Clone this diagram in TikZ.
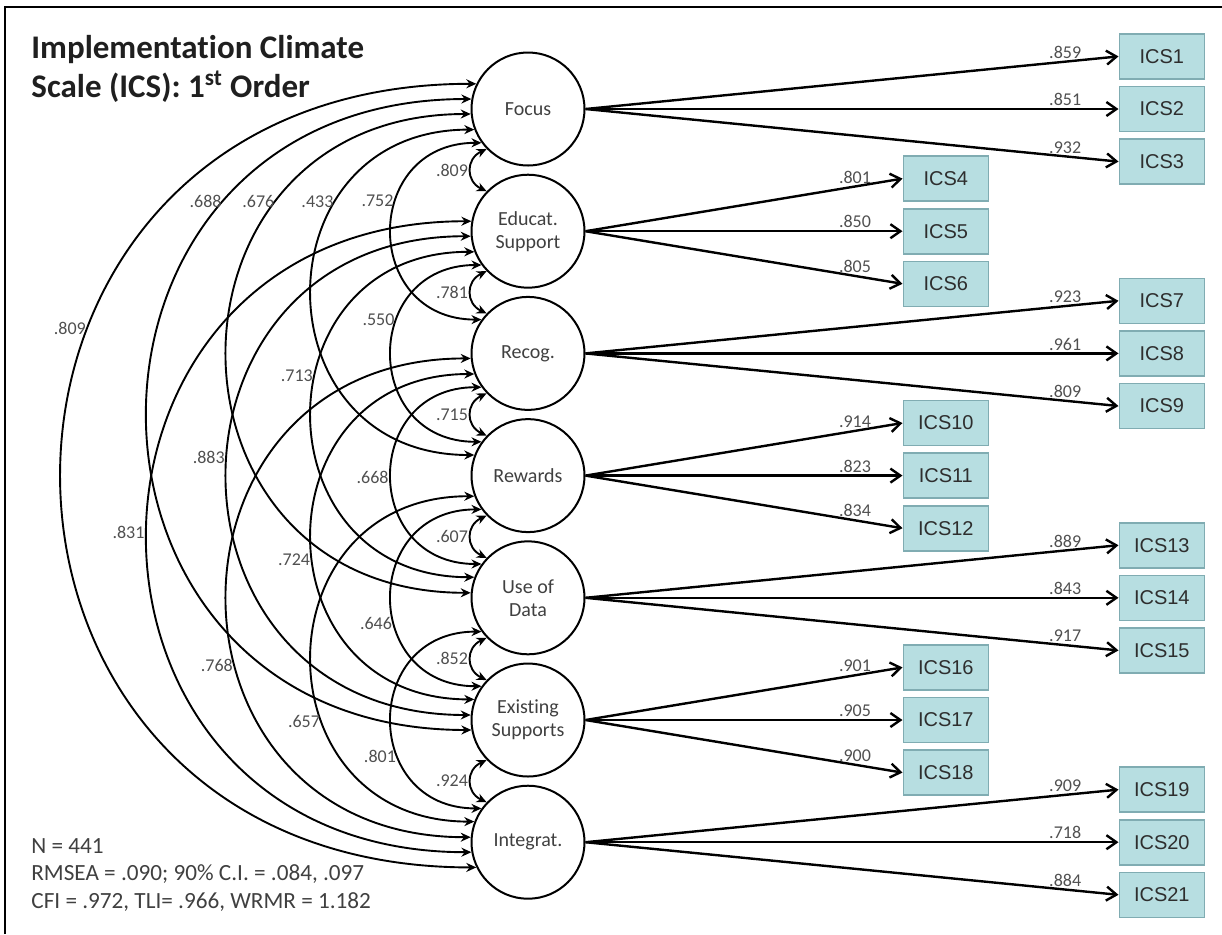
\documentclass[tikz,border=0pt]{standalone}
\usepackage{fontspec}
\setmainfont{Carlito}[Ligatures=NoCommon]
\newfontfamily\boxfont{Liberation Sans}
\usetikzlibrary{arrows.meta,positioning}
\definecolor{textgray}{HTML}{404040}
\definecolor{lblgray}{HTML}{505050}
\definecolor{boxfill}{HTML}{B7DEE1}
\definecolor{boxedge}{HTML}{80ACB2}
\tikzset{
  factor/.style={circle,draw,line width=1pt,minimum size=56.5pt,inner sep=0pt,
    align=center,text=textgray,font=\fontsize{10}{11.5}\selectfont},
  item/.style={draw=boxedge,fill=boxfill,line width=0.8pt,minimum width=42.5pt,
    minimum height=22.5pt,inner sep=0pt,text=black!82,
    font=\boxfont\fontsize{10}{12}\selectfont},
  load/.style={-{Straight Barb[length=5pt,width=7pt]},line width=1.2pt},
  cov/.style={{Stealth[length=5pt,width=4.5pt]}-{Stealth[length=5pt,width=4.5pt]},
    line width=0.95pt},
  coef/.style={text=lblgray,font=\fontsize{9}{10}\selectfont,inner sep=1pt}
}

\begin{document}
\begin{tikzpicture}[x=0.5pt,y=-0.5pt]
  \useasboundingbox (0,0) rectangle (1222,934);
  \draw[line width=1pt] (5,934) -- (5,7) -- (1222,7);

  % heading and fit
  \node[anchor=north west,align=left,inner sep=0pt,text=black!88,
    font=\bfseries\fontsize{16.5}{19.5}\selectfont] (title) at (31,35)
    {Implementation Climate\\Scale (ICS): 1\textsuperscript{st} Order};
  \node[anchor=north west,align=left,inner sep=0pt,text=textgray,
    font=\fontsize{11.6}{13.8}\selectfont] (fit) at (31,838)
    {N = 441\\RMSEA = .090; 90\% C.I. = .084, .097\\CFI = .972, TLI= .966, WRMR = 1.182};

  % factors
  \node[factor] (Focus) at (528,109) {Focus};
  \node[factor,below=3.6pt of Focus] (Educ) {Educat.\\Support};
  \node[factor,below=3.6pt of Educ] (Recog) {Recog.};
  \node[factor,below=3.6pt of Recog] (Reward) {Rewards};
  \node[factor,below=3.6pt of Reward] (Data) {Use of\\Data};
  \node[factor,below=3.6pt of Data] (Exist) {Existing\\Supports};
  \node[factor,below=3.6pt of Exist] (Integ) {Integrat.};

  % items, outer column
  \node[item,right=266.5pt of Focus] (I2) {ICS2};
  \node[item,above=3pt of I2] (I1) {ICS1};
  \node[item,below=3pt of I2] (I3) {ICS3};
  \node[item,right=266.5pt of Recog] (I8) {ICS8};
  \node[item,above=3pt of I8] (I7) {ICS7};
  \node[item,below=3pt of I8] (I9) {ICS9};
  \node[item,right=266.5pt of Data] (I14) {ICS14};
  \node[item,above=3pt of I14] (I13) {ICS13};
  \node[item,below=3pt of I14] (I15) {ICS15};
  \node[item,right=266.5pt of Integ] (I20) {ICS20};
  \node[item,above=3pt of I20] (I19) {ICS19};
  \node[item,below=3pt of I20] (I21) {ICS21};
  % items, inner column
  \node[item,right=158.5pt of Educ] (I5) {ICS5};
  \node[item,above=3pt of I5] (I4) {ICS4};
  \node[item,below=3pt of I5] (I6) {ICS6};
  \node[item,right=158.5pt of Reward] (I11) {ICS11};
  \node[item,above=3pt of I11] (I10) {ICS10};
  \node[item,below=3pt of I11] (I12) {ICS12};
  \node[item,right=158.5pt of Exist] (I17) {ICS17};
  \node[item,above=3pt of I17] (I16) {ICS16};
  \node[item,below=3pt of I17] (I18) {ICS18};

  % loadings
  \foreach \f/\i/\v in {Focus/1/.859,Focus/2/.851,Focus/3/.932,
      Recog/7/.923,Recog/8/.961,Recog/9/.809,Data/13/.889,Data/14/.843,
      Data/15/.917,Integ/19/.909,Integ/20/.718,Integ/21/.884}
    \draw[load] (\f.east) -- (I\i.west) node[coef,pos=0.9,above] {\v};
  \foreach \f/\i/\v in {Educ/4/.801,Educ/5/.850,Educ/6/.805,Reward/10/.914,
      Reward/11/.823,Reward/12/.834,Exist/16/.901,Exist/17/.905,Exist/18/.900}
    \draw[load] (\f.east) -- (I\i.west) node[coef,pos=0.85,above] {\v};

  % correlations, one ring per distance
  \foreach \u/\l/\v in {Focus/Educ/.809,Educ/Recog/.781,Recog/Reward/.715,
      Reward/Data/.607,Data/Exist/.852,Exist/Integ/.924}
    \draw[cov] (\u.224) .. controls +(-21,10) and +(-21,-10) .. (\l.136)
      node[coef,pos=0.5,left] {\v};
  \foreach \u/\l/\v/\p in {Focus/Recog/.752/0.383,Educ/Reward/.550/0.372,
      Recog/Data/.668/0.507,Reward/Exist/.646/0.597,Data/Integ/.801/0.643}
    \draw[cov] (\u.216) .. controls +(-120,0) and +(-120,0) .. (\l.144)
      node[coef,pos=\p,left] {\v};
  \foreach \u/\l/\v/\p in {Focus/Reward/.433/0.305,Educ/Data/.713/0.42,
      Recog/Exist/.724/0.548,Reward/Integ/.657/0.632}
    \draw[cov] (\u.201) .. controls +(-217,0) and +(-217,0) .. (\l.159)
      node[coef,pos=\p,left] {\v};
  \foreach \u/\l/\v/\p in {Focus/Data/.676/0.273,Educ/Exist/.883/0.474,
      Recog/Integ/.768/0.595}
    \draw[cov] (\u.185) .. controls +(-325,0) and +(-325,0) .. (\l.175)
      node[coef,pos=\p,left] {\v};
  \foreach \u/\l/\v/\p in {Focus/Exist/.688/0.256,Educ/Integ/.831/0.495}
    \draw[cov] (\u.170) .. controls +(-432,0) and +(-432,0) .. (\l.190)
      node[coef,pos=\p,left] {\v};
  \draw[cov] (Focus.154) .. controls +(-553,0) and +(-553,0) .. (Integ.206)
    node[coef,pos=0.372,left] {.809};
\end{tikzpicture}
\end{document}
